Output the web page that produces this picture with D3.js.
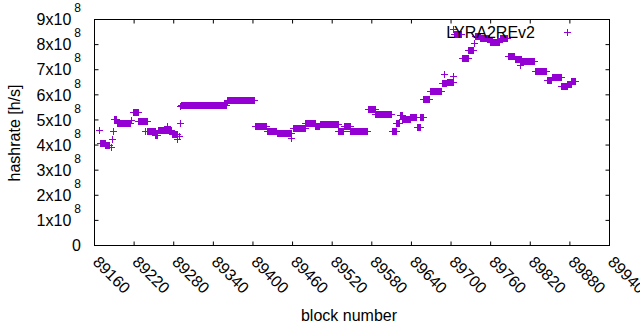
<!DOCTYPE html>
<html>
<head>
<meta charset="utf-8">
<script src="https://cdn.jsdelivr.net/npm/d3@7"></script>
<style>
  body { margin: 0; background: #fff; }
</style>
</head>
<body>
<div id="chart"></div>
<script>
// Data: runs of blocks sharing the same hashrate estimate
var blockFrom = [
  89168, 89169, 89177, 89185, 89188, 89189, 89190, 89195, 89216, 89219,
  89227, 89237, 89241, 89253, 89257, 89270, 89278, 89286, 89288, 89290,
  89291, 89292, 89361, 89362, 89404, 89422, 89437, 89459, 89462, 89480,
  89495, 89502, 89530, 89538, 89548, 89575, 89586, 89611, 89618, 89623,
  89627, 89639, 89649, 89654, 89659, 89669, 89687, 89690, 89694, 89703,
  89704, 89705, 89717, 89727, 89736, 89737, 89745, 89760, 89775, 89787,
  89797, 89805, 89807, 89828, 89846, 89853, 89868, 89877, 89883
];
var blockTo = [
  89168, 89176, 89183, 89185, 89188, 89189, 89194, 89214, 89216, 89226,
  89240, 89237, 89252, 89256, 89277, 89270, 89285, 89286, 89288, 89290,
  89291, 89360, 89361, 89403, 89421, 89436, 89458, 89459, 89479, 89494,
  89501, 89529, 89537, 89547, 89574, 89585, 89610, 89617, 89622, 89626,
  89638, 89648, 89653, 89658, 89668, 89686, 89693, 89690, 89703, 89703,
  89704, 89716, 89726, 89734, 89736, 89744, 89759, 89774, 89786, 89796,
  89806, 89805, 89827, 89845, 89852, 89867, 89876, 89882, 89888
];
// hashrate in units of 1e8 h/s
var hashrate = [
  4.57, 4.06, 3.99, 3.90, 4.23, 4.55, 5.00, 4.87, 4.97, 5.29,
  4.94, 4.55, 4.52, 4.38, 4.59, 4.73, 4.42, 4.23, 4.33, 4.84,
  5.52, 5.56, 5.72, 5.77, 4.72, 4.53, 4.48, 4.27, 4.65, 4.86,
  4.72, 4.81, 4.53, 4.75, 4.53, 5.43, 5.23, 4.52, 4.86, 5.17,
  5.00, 5.11, 4.71, 5.08, 5.82, 6.12, 6.45, 6.82, 6.51, 6.74,
  8.59, 8.41, 7.44, 7.77, 8.06, 8.33, 8.24, 8.07, 8.24, 7.51,
  7.40, 7.18, 7.31, 6.91, 6.58, 6.71, 6.32, 6.42, 6.52
];

var xTickValues = [89160, 89220, 89280, 89340, 89400, 89460, 89520, 89580,
  89640, 89700, 89760, 89820, 89880, 89940];
var yTickValues = [0, 1, 2, 3, 4, 5, 6, 7, 8, 9];
var seriesName = "LYRA2REv2";

var svgWidth = 640;
var svgHeight = 330;
var margins = { top: 19.5, right: 30.5, bottom: 84.5, left: 94.5 };
var width = svgWidth - margins.left - margins.right;
var height = svgHeight - margins.top - margins.bottom;
var purple = "#9400d3";
var font = "'Liberation Sans', Arial, sans-serif";

// one point per block inside each run
var points = [];
blockFrom.forEach(function(b0, i) {
  for (var b = b0; b <= blockTo[i]; b++) {
    points.push({ block: b, rate: hashrate[i] });
  }
});

var svg = d3.select("#chart")
  .append("svg")
  .attr("width", svgWidth)
  .attr("height", svgHeight)
  .style("font-family", font)
  .style("font-size", "16px");

var chartGroup = svg.append("g")
  .attr("transform", `translate(${margins.left}, ${margins.top})`);

var xScale = d3.scaleLinear().domain([89160, 89940]).range([0, width]);
var yScale = d3.scaleLinear().domain([0, 9]).range([height, 0]);

function styleAxis(g) {
  g.attr("font-family", font).attr("font-size", 16);
  g.select(".domain").remove();
  g.selectAll(".tick line").attr("stroke", "#000");
  g.selectAll(".tick text").attr("fill", "#000");
}

// bottom axis, rotated labels
var xAxisG = chartGroup.append("g")
  .attr("transform", `translate(0, ${height})`)
  .call(d3.axisBottom(xScale).tickValues(xTickValues).tickSize(-4)
    .tickSizeOuter(0).offset(0).tickFormat(d3.format("d")))
  .call(styleAxis);
xAxisG.selectAll(".tick text")
  .attr("x", 0).attr("y", 0).attr("dy", 0)
  .attr("text-anchor", "start")
  .attr("transform", "translate(-2.5, 17.5) rotate(45)");

// top mirror ticks
chartGroup.append("g")
  .call(d3.axisTop(xScale).tickValues(xTickValues).tickSize(-4)
    .tickSizeOuter(0).offset(0).tickFormat(""))
  .call(styleAxis);

// left axis with x10^8 labels
var yAxisG = chartGroup.append("g")
  .call(d3.axisLeft(yScale).tickValues(yTickValues).tickSize(-4)
    .tickSizeOuter(0).offset(0).tickPadding(13.5).tickFormat(""))
  .call(styleAxis);
yAxisG.selectAll(".tick text").each(function(d) {
  var t = d3.select(this).attr("dy", "0.36em").attr("text-anchor", "end");
  if (d === 0) { t.text("0"); return; }
  t.append("tspan").text(d + "x10");
  t.append("tspan").attr("dx", 3).attr("dy", -13).attr("font-size", 12).text("8");
});

// right mirror ticks
chartGroup.append("g")
  .attr("transform", `translate(${width}, 0)`)
  .call(d3.axisRight(yScale).tickValues(yTickValues).tickSize(-4)
    .tickSizeOuter(0).offset(0).tickFormat(""))
  .call(styleAxis);

// border
chartGroup.append("rect")
  .attr("width", width)
  .attr("height", height)
  .attr("fill", "none")
  .attr("stroke", "#000")
  .attr("stroke-width", 1);

// axis titles
svg.append("text")
  .attr("transform", "translate(20, 133) rotate(-90)")
  .attr("text-anchor", "middle")
  .text("hashrate [h/s]");

svg.append("text")
  .attr("x", 349)
  .attr("y", 321)
  .attr("text-anchor", "middle")
  .text("block number");

// key
svg.append("text")
  .attr("x", 535)
  .attr("y", 37.5)
  .attr("text-anchor", "end")
  .text(seriesName);

var plus = "M-3.5,0H3.5M0,-3.5V3.5";
svg.append("path")
  .attr("transform", "translate(567.5, 32.5)")
  .attr("d", plus)
  .attr("stroke", purple)
  .attr("fill", "none")
  .attr("shape-rendering", "crispEdges");

// points
chartGroup.append("g")
  .selectAll("path")
  .data(points)
  .enter()
  .append("path")
  .attr("transform", d => `translate(${Math.round(xScale(d.block))}, ${Math.round(yScale(d.rate))})`)
  .attr("d", plus)
  .attr("stroke", purple)
  .attr("fill", "none")
  .attr("shape-rendering", "crispEdges");
</script>
</body>
</html>
